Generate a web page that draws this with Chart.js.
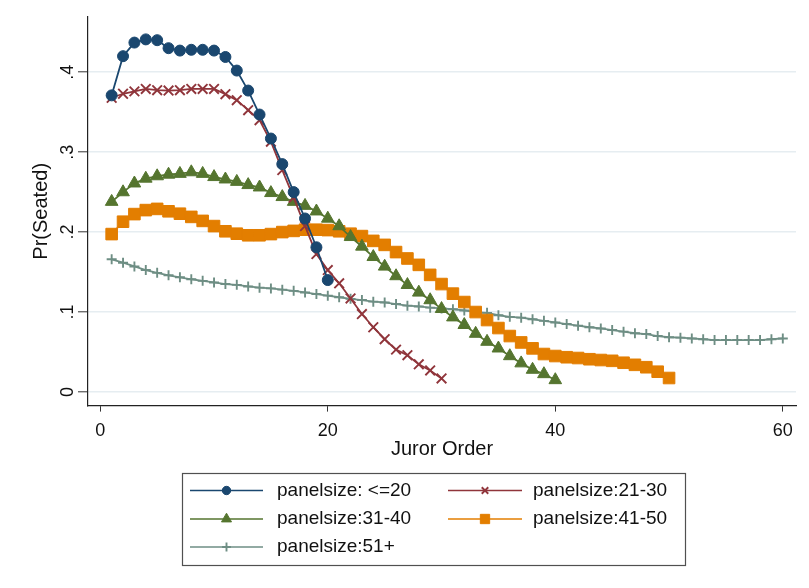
<!DOCTYPE html>
<html>
<head>
<meta charset="utf-8">
<title>Pr(Seated) by juror order</title>
<script src="https://cdn.jsdelivr.net/npm/chart.js@4/dist/chart.umd.min.js"></script>
<style>
  html, body { margin: 0; padding: 0; background: #ffffff; }
  canvas { display: block; }
</style>
</head>
<body>
<canvas id="chart" width="809" height="588"></canvas>
<script>
// Juror position in the order of call
const jurorOrder = [1, 2, 3, 4, 5, 6, 7, 8, 9, 10, 11, 12, 13, 14, 15, 16, 17, 18, 19, 20,
  21, 22, 23, 24, 25, 26, 27, 28, 29, 30, 31, 32, 33, 34, 35, 36, 37, 38, 39, 40,
  41, 42, 43, 44, 45, 46, 47, 48, 49, 50, 51, 52, 53, 54, 55, 56, 57, 58, 59, 60];

const seriesNames = ['panelsize: <=20', 'panelsize:21-30', 'panelsize:31-40', 'panelsize:41-50', 'panelsize:51+'];

// Pr(Seated) for each panel-size group
const panelUpTo20 = [0.371, 0.420, 0.437, 0.441, 0.440, 0.430, 0.427, 0.428, 0.428, 0.427,
  0.419, 0.402, 0.377, 0.347, 0.317, 0.285, 0.250, 0.217, 0.181, 0.140];

const panel21to30 = [0.368, 0.373, 0.376, 0.379, 0.3775, 0.377, 0.3775, 0.379, 0.379, 0.379,
  0.3725, 0.365, 0.3525, 0.340, 0.313, 0.2775, 0.243, 0.2075, 0.1725, 0.1525,
  0.136, 0.117, 0.0975, 0.081, 0.066, 0.053, 0.046, 0.0346, 0.027, 0.017];

const panel31to40 = [0.238, 0.250, 0.261, 0.267, 0.270, 0.272, 0.273, 0.275, 0.273, 0.269,
  0.266, 0.263, 0.259, 0.256, 0.249, 0.244, 0.238, 0.233, 0.226, 0.217,
  0.2075, 0.194, 0.182, 0.169, 0.157, 0.145, 0.134, 0.1245, 0.115, 0.104,
  0.0935, 0.084, 0.073, 0.063, 0.0546, 0.045, 0.036, 0.028, 0.0225, 0.015];

const panel41to50 = [0.1975, 0.213, 0.2225, 0.2275, 0.229, 0.226, 0.223, 0.219, 0.214, 0.2075,
  0.201, 0.198, 0.196, 0.196, 0.1975, 0.200, 0.2015, 0.203, 0.203, 0.2025,
  0.201, 0.198, 0.195, 0.189, 0.184, 0.175, 0.167, 0.159, 0.1465, 0.135,
  0.123, 0.1125, 0.100, 0.090, 0.080, 0.070, 0.062, 0.0546, 0.0475, 0.045,
  0.0435, 0.0425, 0.041, 0.040, 0.039, 0.0366, 0.034, 0.031, 0.0254, 0.0175];

const panel51plus = [0.166, 0.1617, 0.157, 0.1525, 0.149, 0.146, 0.1435, 0.141, 0.139, 0.137,
  0.135, 0.134, 0.132, 0.1305, 0.1296, 0.128, 0.1265, 0.1245, 0.1225, 0.1205,
  0.1185, 0.1165, 0.115, 0.113, 0.112, 0.110, 0.108, 0.107, 0.1055, 0.1045,
  0.1035, 0.102, 0.100, 0.099, 0.096, 0.094, 0.093, 0.091, 0.089, 0.087,
  0.085, 0.083, 0.081, 0.0795, 0.0775, 0.0755, 0.0735, 0.0725, 0.070, 0.0685,
  0.068, 0.067, 0.066, 0.065, 0.065, 0.065, 0.065, 0.065, 0.066, 0.067];

// Axis ticks
const xTickValues = [0, 20, 40, 60];
const xTickLabels = ['0', '20', '40', '60'];
const yTickValues = [0, 0.1, 0.2, 0.3, 0.4];
const yTickLabels = ['0', '.1', '.2', '.3', '.4'];

const xAxisTitle = 'Juror Order';
const yAxisTitle = 'Pr(Seated)';

// Marker styles per series (s2color palette)
const seriesStyles = [
  { color: '#1a476f', pointStyle: 'circle',   radius: 5.5, legendRadius: 4.2, border: 1 },
  { color: '#90353b', pointStyle: 'crossRot', radius: 6.8, legendRadius: 4.6, border: 1.9 },
  { color: '#55752f', pointStyle: 'triangle', radius: 7.3, legendRadius: 5.8, border: 1 },
  { color: '#e37e00', pointStyle: 'rect',     radius: 8.2, legendRadius: 6.6, border: 1 },
  { color: '#6e8e84', pointStyle: 'cross',    radius: 5,   legendRadius: 4.4, border: 1.9 }
];
const seriesValues = [panelUpTo20, panel21to30, panel31to40, panel41to50, panel51plus];

const FONT = "'Liberation Sans', Arial, Helvetica, sans-serif";

const datasets = seriesValues.map((vals, i) => {
  const s = seriesStyles[i];
  return {
    label: seriesNames[i],
    data: vals.map((v, j) => ({ x: jurorOrder[j], y: v })),
    borderColor: s.color,
    backgroundColor: s.color,
    borderWidth: 1.8,
    pointStyle: s.pointStyle,
    pointRadius: s.radius,
    pointHoverRadius: s.radius,
    pointBorderWidth: s.border,
    pointBackgroundColor: s.color,
    pointBorderColor: s.color,
    tension: 0,
    fill: false
  };
});

// Framed two-column legend below the plot
const framedLegend = {
  id: 'framedLegend',
  afterDraw(chart) {
    const ctx = chart.ctx;
    const box = { x: 182.5, y: 473.5, w: 503, h: 92 };
    const cols = [{ x0: 190, x1: 263, tx: 277 }, { x0: 448, x1: 522, tx: 533 }];
    const rows = [490.5, 519, 547];
    ctx.save();
    ctx.strokeStyle = '#505050';
    ctx.lineWidth = 1.2;
    ctx.strokeRect(box.x, box.y, box.w, box.h);
    ctx.font = '19px ' + FONT;
    ctx.textBaseline = 'middle';
    ctx.textAlign = 'left';
    chart.data.datasets.forEach((ds, i) => {
      const s = seriesStyles[i];
      const c = cols[i % 2];
      const y = rows[Math.floor(i / 2)];
      ctx.strokeStyle = s.color;
      ctx.fillStyle = s.color;
      ctx.lineWidth = 1.6;
      ctx.beginPath();
      ctx.moveTo(c.x0, y);
      ctx.lineTo(c.x1, y);
      ctx.stroke();
      ctx.lineWidth = s.border;
      Chart.helpers.drawPoint(ctx, {
        pointStyle: s.pointStyle,
        radius: s.legendRadius,
        borderWidth: s.border,
        rotation: 0
      }, (c.x0 + c.x1) / 2, y);
      ctx.fillStyle = '#111111';
      ctx.fillText(ds.label, c.tx, y);
    });
    ctx.restore();
  }
};

new Chart(document.getElementById('chart'), {
  type: 'line',
  data: { datasets },
  plugins: [framedLegend],
  options: {
    responsive: false,
    animation: false,
    devicePixelRatio: 1,
    layout: { padding: { left: 0, right: 13, top: 17, bottom: 122.4 } },
    plugins: {
      legend: { display: false },
      tooltip: { enabled: false }
    },
    scales: {
      x: {
        type: 'linear',
        min: -1.08,
        max: 61.16,
        afterBuildTicks: (scale) => { scale.ticks = xTickValues.map(v => ({ value: v })); },
        afterFit: (scale) => { scale.height = 60; },
        ticks: {
          autoSkip: false,
          minRotation: 0,
          maxRotation: 0,
          padding: 9,
          color: '#111111',
          font: { family: FONT, size: 18 },
          callback: (v) => xTickLabels[xTickValues.indexOf(v)]
        },
        grid: {
          drawOnChartArea: false,
          drawTicks: true,
          tickLength: 6,
          tickColor: '#333333',
          tickWidth: 1
        },
        border: { display: true, color: '#222222', width: 1.2 },
        title: {
          display: true,
          text: xAxisTitle,
          color: '#111111',
          font: { family: FONT, size: 20 },
          padding: { top: 4.6, bottom: 4.6 }
        }
      },
      y: {
        type: 'linear',
        min: -0.017,
        max: 0.469,
        afterBuildTicks: (scale) => { scale.ticks = yTickValues.map(v => ({ value: v })); },
        afterFit: (scale) => { scale.width = 88; },
        ticks: {
          autoSkip: false,
          minRotation: 90,
          maxRotation: 90,
          crossAlign: 'center',
          padding: 2.5,
          color: '#111111',
          font: { family: FONT, size: 18 },
          callback: (v) => yTickLabels[yTickValues.indexOf(v)]
        },
        grid: {
          drawOnChartArea: true,
          color: '#e6edf1',
          lineWidth: 1.6,
          drawTicks: true,
          tickLength: 10,
          tickColor: '#333333',
          tickWidth: 1
        },
        border: { display: true, color: '#222222', width: 1.2 },
        title: {
          display: true,
          text: yAxisTitle,
          color: '#111111',
          font: { family: FONT, size: 20 },
          padding: { top: 29.7, bottom: 29.7 }
        }
      }
    }
  }
});
</script>
</body>
</html>
